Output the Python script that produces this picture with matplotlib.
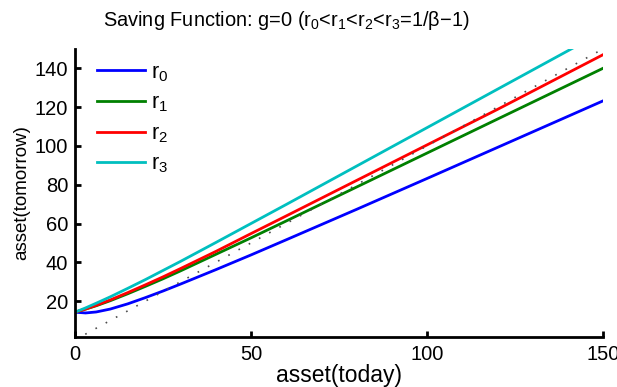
import matplotlib
matplotlib.use("Agg")
import matplotlib.pyplot as plt

plt.rcParams["font.family"] = ["Liberation Sans", "DejaVu Sans"]
plt.rcParams["mathtext.fontset"] = "custom"
plt.rcParams["mathtext.rm"] = "Liberation Sans"
plt.rcParams["mathtext.it"] = "Liberation Sans"
plt.rcParams["mathtext.default"] = "regular"

# asset(today) grid points and asset(tomorrow) for each interest rate
asset_today = [0, 3, 6, 10, 15, 20, 25, 30, 40, 50, 60, 80, 100, 120, 150]
r0 = [14.3, 13.9, 14.4, 15.9, 18.6, 21.8, 25.2, 28.8, 36.2, 43.8, 51.6, 67.3, 83.2, 99.2, 123.2]
r1 = [14.3, 15.9, 17.6, 20.2, 23.8, 27.6, 31.5, 35.6, 44.1, 52.6, 61.3, 78.8, 96.3, 113.8, 140.0]
r2 = [14.3, 15.9, 17.8, 20.6, 24.4, 28.4, 32.5, 36.8, 45.6, 54.8, 63.9, 82.2, 100.5, 118.8, 147.0]
r3 = [14.3, 16.5, 18.9, 22.2, 26.6, 31.1, 35.8, 40.5, 50.2, 60.0, 69.8, 89.6, 109.4, 129.2, 158.9]
diag = [0, 150]

series = [("r$_0$", r0, "b"), ("r$_1$", r1, "g"), ("r$_2$", r2, "r"), ("r$_3$", r3, "c")]

fig = plt.figure(figsize=(6.17, 3.87), dpi=100)
ax = fig.add_axes([0.1216, 0.1292, 0.8554, 0.7442])

for label, ys, color in series:
    ax.plot(asset_today, ys, color=color, linewidth=2, label=label)
ax.plot(diag, diag, linestyle=(0, (1, 6)), color="0.3", linewidth=1.2)

ax.set_xlim(0, 150)
ax.set_ylim(1.5, 150)
ax.set_xticks([0, 50, 100, 150])
ax.set_yticks([20, 40, 60, 80, 100, 120, 140])

for side in ("top", "right"):
    ax.spines[side].set_visible(False)
for side in ("left", "bottom"):
    ax.spines[side].set_linewidth(2)
ax.tick_params(direction="in", length=4, width=2, labelsize=14.5)
ax.tick_params(axis="x", pad=6)
ax.tick_params(axis="y", pad=5)

ax.set_xlabel("asset(today)", fontsize=16.5, labelpad=0)
ax.set_ylabel("asset(tomorrow)", fontsize=13.5, labelpad=3)
fig.text(286 / 617, 1 - 20 / 387,
         "Saving Function: g=0 (r$_0$<r$_1$<r$_2$<r$_3$=1/\u03b2\u22121)",
         fontsize=14.4, ha="center", va="center")

leg = ax.legend(loc="upper left", frameon=False, fontsize=15.5, handlelength=2.2,
                handletextpad=0.3, labelspacing=0.42, borderaxespad=0,
                bbox_to_anchor=(0.026, 0.985))

fig.savefig("out.png", dpi=100)
print("Saved out.png")
